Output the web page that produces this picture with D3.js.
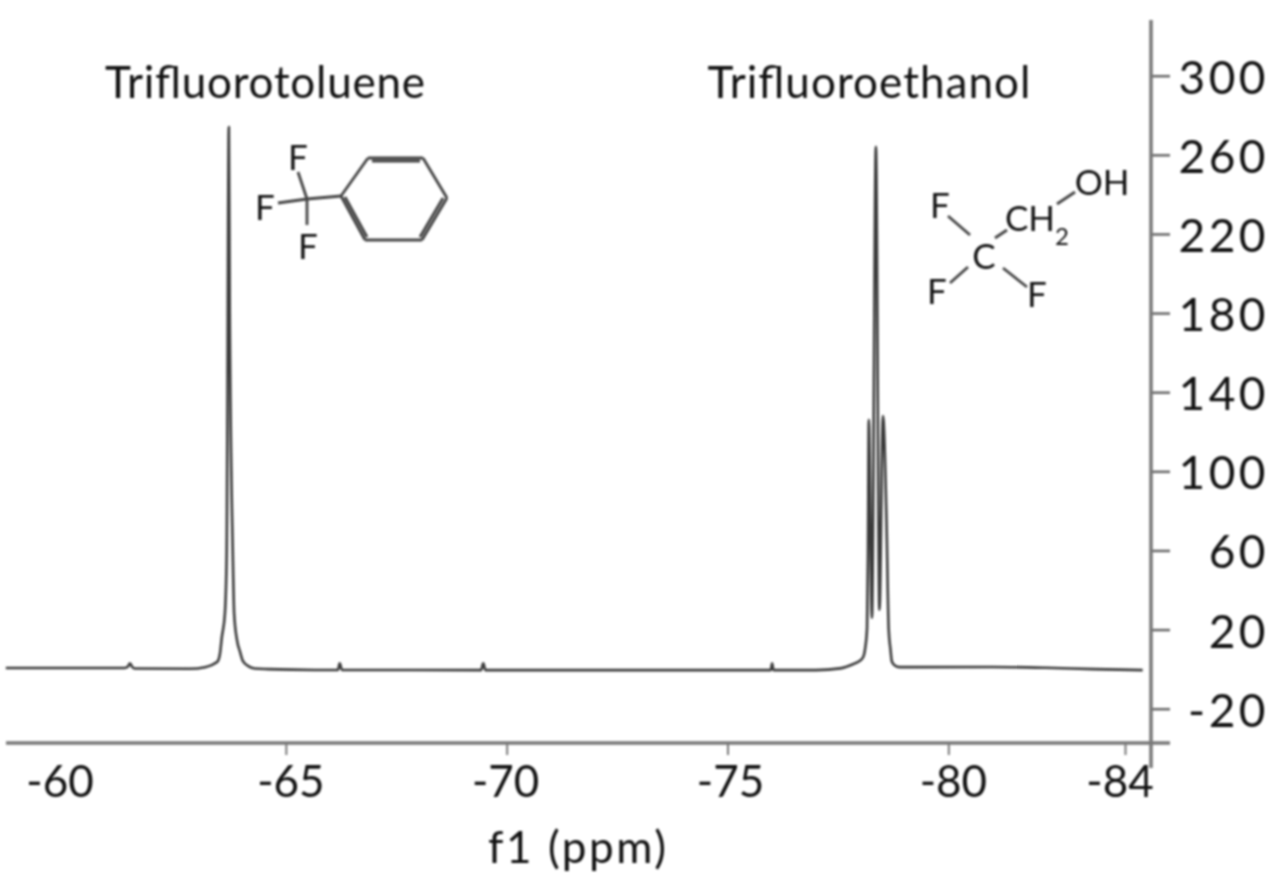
<!DOCTYPE html>
<html><head><meta charset="utf-8">
<script src="https://cdn.jsdelivr.net/npm/d3@7/dist/d3.min.js"></script>
<style>
html,body{margin:0;padding:0;background:#fff}
svg{display:block;filter:blur(0.8px)}
text{font-family:Lato,"Noto Sans",sans-serif;fill:#111}
</style></head><body><div id="chart"></div>
<script>
// Spectrum
const ppm = [-58.66,-61.35,-61.42,-61.47,-61.52,-61.58,-62.83,-63.17,-63.32,-63.40,-63.46,-63.51,-63.55,-63.62,-63.66,-63.71,-63.73,-63.80,-63.83,-63.90,-63.96,-64.03,-64.15,-64.30,-64.60,-65.66,-66.18,-66.22,-66.27,-66.32,-69.42,-69.47,-69.52,-75.98,-76.01,-76.04,-77.00,-77.55,-77.84,-77.98,-78.07,-78.12,-78.16,-78.18,-78.20,-78.27,-78.36,-78.44,-78.52,-78.60,-78.65,-78.69,-78.72,-78.78,-78.90,-79.10,-81.00,-82.20,-83.30,-84.40];
const intensity = [0.6,0.6,1.2,3,1.2,0.3,0.2,1,2,3,4,8,16,28,58,274,180,58,28,14,9,4,1.5,0.3,0,-0.4,-0.4,3,-0.4,-0.4,-0.5,3,-0.5,-0.5,3,-0.5,-0.5,0.4,2.5,4,6,11,21,57,126,26,264,30,128,75,20,10,4,2,1,1,1.1,0.7,0,-0.5];
const xTicks = [-60,-65,-70,-75,-80,-84];
const xTickLabelShift = [-5,5,-1,3,5,-5];
const yTicks = [300,260,220,180,140,100,60,20,-20];
const peakLabels = ["Trifluorotoluene","Trifluoroethanol"];
const peakLabelX = [265,869];
const peakLabelWidth = [320,323];
const xAxisTitle = "f1 (ppm)";

const bondsA = [[298,172,307,199],[278,203,307,199],[307,199,307,225],[307,199,341,196],
  [341,196,368,158],[368,158,423,158],[423,158,447,198],[447,198,422,240],[422,240,365,240],[365,240,341,196],
  [372,161,420,161],[345,197,367,237],[443,198,420,237]];
const atomsA = [["F",298,157],["F",265,207],["F",308,246]];
const bondsB = [[948,216,970,235],[995,238,1007,230],[950,283,968,267],[1003,268,1027,287],[1057,204,1075,192]];
const atomsB = [["F",940,205],["F",937,291],["F",1037,294],["C",984,256],["CH",1030,218],["OH",1102,182]];

const width = 1280, height = 896;
const x = d3.scaleLinear().domain([-60,-84]).range([65,1125]);
const y = d3.scaleLinear().domain([300,-20]).range([75.7,708.7]);
const axisY = 743, axisX = 1151;

const svg = d3.select("#chart").append("svg").attr("width",width).attr("height",height);

svg.append("path")
  .attr("d", d3.line().curve(d3.curveMonotoneX).x((d,i)=>x(ppm[i])).y((d,i)=>y(intensity[i]))(ppm))
  .attr("fill","none").attr("stroke","#3a3a3a").attr("stroke-width",2.6).attr("stroke-linejoin","round");

// x axis
const xAxis = svg.append("g").attr("transform",`translate(0,${axisY})`)
  .call(d3.axisBottom(x).tickValues(xTicks.slice(1)).tickSize(12).tickFormat(""));
xAxis.select(".domain").remove();
xAxis.selectAll("line").attr("stroke","#777").attr("stroke-width",2);
svg.append("line").attr("x1",6).attr("x2",1170).attr("y1",axisY).attr("y2",axisY).attr("stroke","#777").attr("stroke-width",3.5);
svg.selectAll(".xl").data(xTicks).join("text").attr("class","xl")
  .attr("x",(d,i)=>x(d)+xTickLabelShift[i]).attr("y",797).attr("text-anchor","middle")
  .attr("font-size",44).text(d=>d);

// y axis
const yAxis = svg.append("g").attr("transform",`translate(${axisX},0)`)
  .call(d3.axisRight(y).tickValues(yTicks).tickSize(19).tickFormat(""));
yAxis.select(".domain").remove();
yAxis.selectAll("line").attr("stroke","#666").attr("stroke-width",2.5);
svg.append("line").attr("x1",axisX).attr("x2",axisX).attr("y1",20).attr("y2",768).attr("stroke","#777").attr("stroke-width",3.5);
svg.selectAll(".yl").data(yTicks).join("text").attr("class","yl")
  .attr("x",1269).attr("y",d=>y(d)+18).attr("text-anchor","end")
  .attr("font-size",46).attr("letter-spacing",3.5).text(d=>d);

// labels
svg.selectAll(".pl").data(peakLabels).join("text").attr("class","pl")
  .attr("x",(d,i)=>peakLabelX[i]).attr("y",98).attr("text-anchor","middle")
  .attr("font-size",44).attr("textLength",(d,i)=>peakLabelWidth[i]).attr("lengthAdjust","spacing").text(d=>d);
svg.append("text").attr("x",577).attr("y",863).attr("text-anchor","middle")
  .attr("font-size",44).attr("textLength",178).attr("lengthAdjust","spacing").text(xAxisTitle);

// structures
svg.selectAll(".bond").data(bondsA.concat(bondsB)).join("line").attr("class","bond")
  .attr("x1",d=>d[0]).attr("y1",d=>d[1]).attr("x2",d=>d[2]).attr("y2",d=>d[3])
  .attr("stroke","#444").attr("stroke-width",2.8);
svg.selectAll(".atom").data(atomsA.concat(atomsB)).join("text").attr("class","atom")
  .attr("x",d=>d[1]).attr("y",d=>d[2]+12.5).attr("text-anchor","middle").attr("font-size",35).text(d=>d[0]);
svg.append("text").attr("x",1062).attr("y",245).attr("text-anchor","middle").attr("font-size",24).text("2");
</script></body></html>
